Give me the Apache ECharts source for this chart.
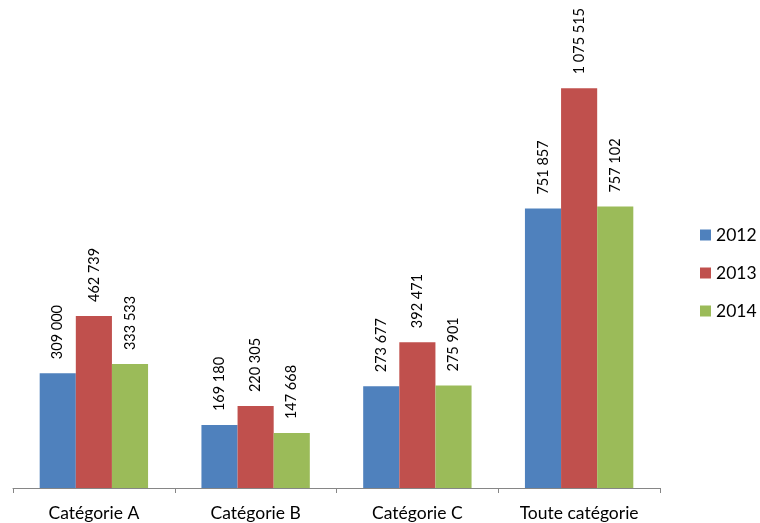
<!DOCTYPE html>
<html><head><meta charset="utf-8">
<script src="https://cdn.jsdelivr.net/npm/echarts@6/dist/echarts.min.js"></script>
<style>html,body{margin:0;padding:0;background:#fff}#c{width:760px;height:523px}</style>
</head><body><div id="c"></div>
<script>
const categories = ['Catégorie A', 'Catégorie B', 'Catégorie C', 'Toute catégorie'];
const seriesNames = ['2012', '2013', '2014'];
const v2012 = [309000, 169180, 273677, 751857];
const v2013 = [462739, 220305, 392471, 1075515];
const v2014 = [333533, 147668, 275901, 757102];
const colors = ['#4F81BD', '#C0504D', '#9BBB59'];
const font = 'Lato, "Open Sans", sans-serif';
function fmt(v){ return String(v).replace(/\B(?=(\d{3})+(?!\d))/g, ' '); }
const chart = echarts.init(document.getElementById('c'));
const data = [v2012, v2013, v2014];
chart.setOption({
  animation: false,
  textStyle: { fontFamily: font },
  grid: { left: 13, right: 100, top: 42, bottom: 35 },
  legend: {
    orient: 'vertical', left: 695, top: 221,
    itemWidth: 11, itemHeight: 11, itemGap: 20,
    icon: 'rect',
    textStyle: { fontSize: 17.5, color: '#000', fontFamily: font },
    data: seriesNames
  },
  xAxis: {
    type: 'category', data: categories,
    axisLine: { lineStyle: { color: '#868686', width: 1 } },
    axisTick: { show: true, length: 5, lineStyle: { color: '#868686' } },
    axisLabel: { fontSize: 17.5, color: '#000', margin: 16, fontFamily: font }
  },
  yAxis: { type: 'value', min: 0, max: 1200000, show: false, splitLine: { show: false } },
  series: seriesNames.map((n, i) => ({
    name: n, type: 'bar', data: data[i],
    barGap: '0%', barCategoryGap: '33%',
    itemStyle: { color: colors[i] },
    label: {
      show: true, position: 'top', rotate: 90, align: 'left', verticalAlign: 'middle',
      distance: 14, fontSize: 14.5, color: '#000', fontFamily: font,
      formatter: p => fmt(p.value)
    }
  }))
});
</script></body></html>
